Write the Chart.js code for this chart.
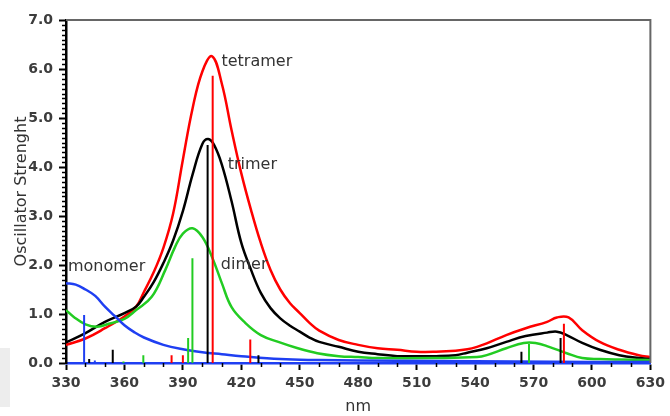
<!DOCTYPE html>
<html>
<head>
<meta charset="utf-8">
<script src="https://cdn.jsdelivr.net/npm/chart.js@4.4.0/dist/chart.umd.min.js"></script>
<style>
  body { margin: 0; background: #fff; }
  canvas { display: block; }
</style>
</head>
<body>
<canvas id="myChart" width="670" height="416"></canvas>
<script>
// tick labels
const xTicks = [330, 360, 390, 420, 450, 480, 510, 540, 570, 600, 630];
const yTicks = [0, 1, 2, 3, 4, 5, 6, 7];

// tetramer (red)
const tetramerNm = [330, 340, 350, 360, 366, 370, 375, 380, 385, 390, 395, 400, 405, 410, 415, 420, 425, 430, 435, 440, 445, 450, 455, 460, 470, 480, 490, 500, 510, 520, 530, 536, 541, 546, 556, 566, 577, 582, 588, 595, 604, 614, 624, 630];
const tetramerVal = [0.37, 0.5, 0.71, 0.95, 1.15, 1.45, 1.85, 2.35, 3.05, 4.15, 5.2, 5.95, 6.26, 5.7, 4.75, 3.87, 3.12, 2.45, 1.9, 1.5, 1.22, 1.02, 0.82, 0.66, 0.47, 0.37, 0.3, 0.27, 0.23, 0.23, 0.25, 0.28, 0.33, 0.4, 0.57, 0.71, 0.84, 0.93, 0.93, 0.67, 0.43, 0.27, 0.16, 0.12];

// trimer (black)
const trimerNm = [330, 340, 350, 360, 366, 370, 375, 380, 385, 390, 395, 400, 403, 406, 410, 415, 420, 425, 430, 435, 440, 445, 450, 455, 460, 470, 480, 490, 500, 510, 520, 530, 536, 546, 556, 566, 577, 582, 587, 595, 604, 614, 624, 630];
const trimerVal = [0.42, 0.61, 0.84, 1.02, 1.15, 1.35, 1.65, 2.04, 2.5, 3.1, 3.85, 4.47, 4.57, 4.45, 4.05, 3.3, 2.45, 1.9, 1.43, 1.12, 0.91, 0.76, 0.64, 0.52, 0.43, 0.33, 0.23, 0.18, 0.14, 0.14, 0.14, 0.16, 0.21, 0.3, 0.43, 0.55, 0.62, 0.64, 0.57, 0.41, 0.27, 0.16, 0.1, 0.08];

// dimer (green)
const dimerNm = [330, 334, 340, 346, 352, 360, 366, 374, 381, 386, 390, 395, 400, 405, 410, 415, 422, 430, 439, 449, 459, 470, 480, 490, 520, 541, 546, 556, 565, 571, 578, 587, 595, 604, 614, 630];
const dimerVal = [1.08, 0.94, 0.79, 0.74, 0.8, 0.9, 1.08, 1.35, 1.9, 2.37, 2.64, 2.75, 2.57, 2.16, 1.63, 1.14, 0.82, 0.57, 0.43, 0.3, 0.2, 0.14, 0.12, 0.1, 0.1, 0.12, 0.16, 0.3, 0.41, 0.41, 0.33, 0.2, 0.1, 0.08, 0.07, 0.06];

// monomer (blue)
const monomerNm = [330, 335, 340, 345, 350, 355, 360, 365, 370, 380, 390, 400, 410, 420, 440, 460, 480, 520, 560, 600, 630];
const monomerVal = [1.63, 1.6, 1.5, 1.37, 1.15, 0.96, 0.77, 0.63, 0.52, 0.37, 0.28, 0.22, 0.18, 0.14, 0.08, 0.06, 0.05, 0.04, 0.03, 0.02, 0.02];

// transition sticks
const tetramerStickNm = [384.2, 390, 405.3, 424.6, 585.6];
const tetramerStickVal = [0.16, 0.16, 5.86, 0.48, 0.8];
const trimerStickNm = [341.9, 354, 402.7, 428.8, 563.8, 583.9];
const trimerStickVal = [0.08, 0.27, 4.45, 0.16, 0.23, 0.51];
const dimerStickNm = [359.5, 369.7, 392.7, 394.9, 567.7];
const dimerStickVal = [0.03, 0.16, 0.51, 2.14, 0.39];
const monomerStickNm = [339.3, 344.8];
const monomerStickVal = [0.98, 0.05];

// curve labels
const labelText = ['tetramer', 'trimer', 'dimer', 'monomer'];
const labelNm = [409.8, 413, 409.5, 331];
const labelVal = [6.14, 4.04, 2.0, 1.96];

const RED = '#ff0000', BLACK = '#000000', GREEN = '#22cc22', BLUE = '#1f3ff2';

function curve(nm, val) {
  return nm.map((x, i) => ({ x: x, y: val[i] }));
}

function sticks(nm, val) {
  const pts = [];
  nm.forEach((x, i) => {
    pts.push({ x: x, y: 0 }, { x: x, y: val[i] }, { x: x, y: null });
  });
  return pts;
}

function lineSet(data, color, width, tension) {
  return {
    data: data,
    borderColor: color,
    borderWidth: width,
    pointRadius: 0,
    fill: false,
    spanGaps: false,
    tension: tension
  };
}

const extras = {
  id: 'extras',
  beforeDraw(chart) {
    const ctx = chart.ctx;
    ctx.save();
    ctx.fillStyle = '#ededed';
    ctx.fillRect(0, 348, 10, 59);
    ctx.restore();
  },
  afterDraw(chart) {
    const ctx = chart.ctx;
    const a = chart.chartArea;
    const xs = chart.scales.x, ys = chart.scales.y;
    ctx.save();
    // top and right frame
    ctx.strokeStyle = '#666';
    ctx.lineWidth = 2;
    ctx.beginPath();
    ctx.moveTo(a.left, a.top);
    ctx.lineTo(a.right, a.top);
    ctx.lineTo(a.right, a.bottom);
    ctx.stroke();
    // minor ticks
    ctx.strokeStyle = '#000';
    ctx.lineWidth = 1.5;
    ctx.beginPath();
    for (let i = 1; i < 70; i++) {
      if (i % 10 === 0) continue;
      const y = Math.round(ys.getPixelForValue(i / 10)) + 0.5;
      ctx.moveTo(a.left - 4, y);
      ctx.lineTo(a.left, y);
    }
    for (let v = 340; v < 630; v += 10) {
      if ((v - 330) % 30 === 0) continue;
      const x = Math.round(xs.getPixelForValue(v)) + 0.5;
      ctx.moveTo(x, a.bottom);
      ctx.lineTo(x, a.bottom + 4);
    }
    ctx.stroke();
    // curve labels
    ctx.fillStyle = '#333';
    ctx.font = '16px "DejaVu Sans"';
    ctx.textBaseline = 'middle';
    ctx.textAlign = 'left';
    labelText.forEach((t, i) => {
      ctx.fillText(t, xs.getPixelForValue(labelNm[i]), ys.getPixelForValue(labelVal[i]));
    });
    ctx.restore();
  }
};

function chartOnLoad() {
  const ctx = document.getElementById('myChart');
  new Chart(ctx, {
    type: 'line',
    data: {
      datasets: [
        lineSet(sticks(monomerStickNm, monomerStickVal), BLUE, 2, 0),
        lineSet(sticks(dimerStickNm, dimerStickVal), GREEN, 2, 0),
        lineSet(sticks(trimerStickNm, trimerStickVal), BLACK, 2, 0),
        lineSet(sticks(tetramerStickNm, tetramerStickVal), RED, 2, 0),
        lineSet(curve(monomerNm, monomerVal), BLUE, 2.5, 0.4),
        lineSet(curve(dimerNm, dimerVal), GREEN, 2.5, 0.4),
        lineSet(curve(trimerNm, trimerVal), BLACK, 2.5, 0.4),
        lineSet(curve(tetramerNm, tetramerVal), RED, 2.5, 0.4)
      ]
    },
    options: {
      responsive: false,
      animation: false,
      devicePixelRatio: 1,
      layout: { padding: { left: 0, right: 15, top: 20, bottom: 0 } },
      plugins: { legend: { display: false }, tooltip: { enabled: false } },
      scales: {
        x: {
          type: 'linear',
          min: xTicks[0],
          max: xTicks[xTicks.length - 1],
          afterFit: s => { s.height = 53; },
          afterBuildTicks: s => { s.ticks = xTicks.map(v => ({ value: v })); },
          ticks: {
            padding: 5,
            color: '#3c3c3c',
            font: { family: 'DejaVu Sans', size: 14, weight: 'bold' },
            maxRotation: 0
          },
          grid: { drawOnChartArea: false, tickLength: 7, tickWidth: 2, tickColor: '#000' },
          border: { display: true, color: BLUE, width: 2.5 },
          title: {
            display: true,
            text: 'nm',
            color: '#333',
            font: { family: 'DejaVu Sans', size: 16 },
            padding: { top: 0, bottom: 0 }
          }
        },
        y: {
          min: yTicks[0],
          max: yTicks[yTicks.length - 1],
          afterFit: s => { s.width = 66; },
          afterBuildTicks: s => { s.ticks = yTicks.map(v => ({ value: v })); },
          ticks: {
            padding: 6,
            color: '#3c3c3c',
            font: { family: 'DejaVu Sans', size: 14, weight: 'bold' },
            callback: v => v.toFixed(1)
          },
          grid: { drawOnChartArea: false, tickLength: 7, tickWidth: 2, tickColor: '#000' },
          border: { display: true, color: '#000', width: 2.5 },
          title: {
            display: true,
            text: 'Oscillator Strenght',
            color: '#333',
            font: { family: 'DejaVu Sans', size: 16 },
            padding: { top: 12, bottom: 0 }
          }
        }
      }
    },
    plugins: [extras]
  });
}

window.onload = chartOnLoad;
</script>
</body>
</html>
